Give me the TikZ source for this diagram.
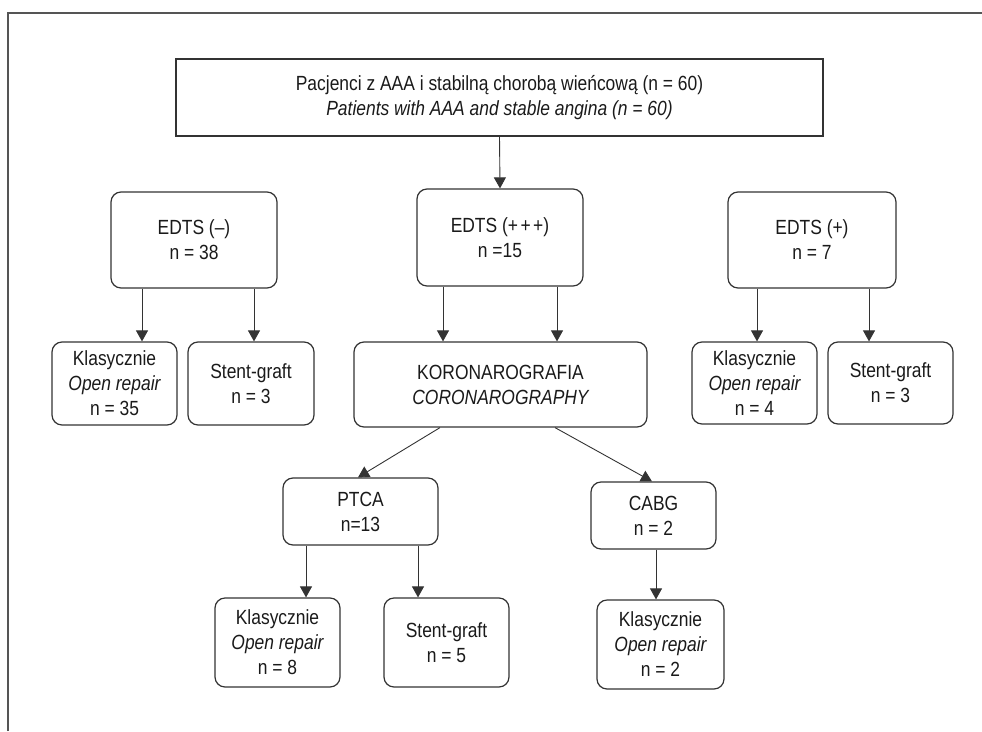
\documentclass[tikz,border=0pt]{standalone}
\usepackage{fontspec}
\setmainfont{Liberation Sans}[FakeStretch=0.85]
\usetikzlibrary{arrows.meta}
\definecolor{ln}{HTML}{333333}
\definecolor{fr}{HTML}{555555}
\definecolor{tx}{HTML}{1A1A1A}
\begin{document}
\begin{tikzpicture}[x=1pt,y=-1pt,
  box/.style={draw=ln,line width=1.2pt,rounded corners=10pt,align=center,inner sep=0pt,
    text=tx,font=\fontsize{20.5}{25}\selectfont},
  sqbox/.style={box,rounded corners=0pt},
  arr/.style={draw=ln,line width=0.9pt,-{Triangle[width=12pt,length=11pt]}}]
\useasboundingbox (0,0) rectangle (982,731);
\draw[fr,line width=1.5pt] (8,731) -- (8,13) -- (982,13);
% nodes
\node[sqbox,minimum width=647pt,minimum height=77pt] (top) at (499.5,97.5)
  {Pacjenci z AAA i stabilną chorobą wieńcową (n = 60)\\\itshape Patients with AAA and stable angina (n = 60)};
\node[box,minimum width=166pt,minimum height=96pt] (edm) at (194,240) {EDTS (–)\\n = 38};
\node[box,minimum width=166pt,minimum height=97pt] (ed3) at (500,237.5) {EDTS (+\kern2.5pt+\kern2.5pt+)\\n =15};
\node[box,minimum width=168pt,minimum height=96pt] (edp) at (812,240) {EDTS (+)\\n = 7};
\node[box,minimum width=125pt,minimum height=83pt] (k1) at (114.5,383.5) {Klasycznie\\\itshape Open repair\\n = 35};
\node[box,minimum width=126pt,minimum height=83pt] (s1) at (251,383.5) {Stent-graft\\n = 3};
\node[box,minimum width=293pt,minimum height=85pt] (koro) at (500.5,384.5) {KORONAROGRAFIA\\\itshape CORONAROGRAPHY};
\node[box,minimum width=125pt,minimum height=82pt] (k2) at (754.5,383) {Klasycznie\\\itshape Open repair\\n = 4};
\node[box,minimum width=125pt,minimum height=82pt] (s2) at (890.5,383) {Stent-graft\\n = 3};
\node[box,minimum width=155pt,minimum height=67pt] (ptca) at (360.5,511.5) {PTCA\\n=13};
\node[box,minimum width=125pt,minimum height=67pt] (cabg) at (653.5,515.5) {CABG\\n = 2};
\node[box,minimum width=125pt,minimum height=89pt] (k3) at (277.5,642.5) {Klasycznie\\\itshape Open repair\\n = 8};
\node[box,minimum width=125pt,minimum height=89pt] (s3) at (446.5,642.5) {Stent-graft\\n = 5};
\node[box,minimum width=127pt,minimum height=89pt] (k4) at (660.5,644.5) {Klasycznie\\\itshape Open repair\\n = 2};
% connectors
\draw[arr] (top.south) -- (ed3.north);
\draw[arr] ([xshift=-52pt]edm.south) -- ([xshift=27.5pt]k1.north);
\draw[arr] ([xshift=60pt]edm.south) -- ([xshift=3pt]s1.north);
\draw[arr] ([xshift=-57pt]ed3.south) -- ([xshift=-57.5pt]koro.north);
\draw[arr] ([xshift=57pt]ed3.south) -- ([xshift=56.5pt]koro.north);
\draw[arr] ([xshift=-55pt]edp.south) -- ([xshift=2.5pt]k2.north);
\draw[arr] ([xshift=57pt]edp.south) -- ([xshift=-21.5pt]s2.north);
\draw[arr] ([xshift=-60.5pt]koro.south) -- ([xshift=-2.5pt]ptca.north);
\draw[arr] ([xshift=54.5pt]koro.south) -- ([xshift=-1.5pt]cabg.north);
\draw[arr] ([xshift=-54.5pt]ptca.south) -- ([xshift=28.5pt]k3.north);
\draw[arr] ([xshift=57.5pt]ptca.south) -- ([xshift=-28.5pt]s3.north);
\draw[arr] ([xshift=2.5pt]cabg.south) -- ([xshift=-4.5pt]k4.north);
\end{tikzpicture}
\end{document}
